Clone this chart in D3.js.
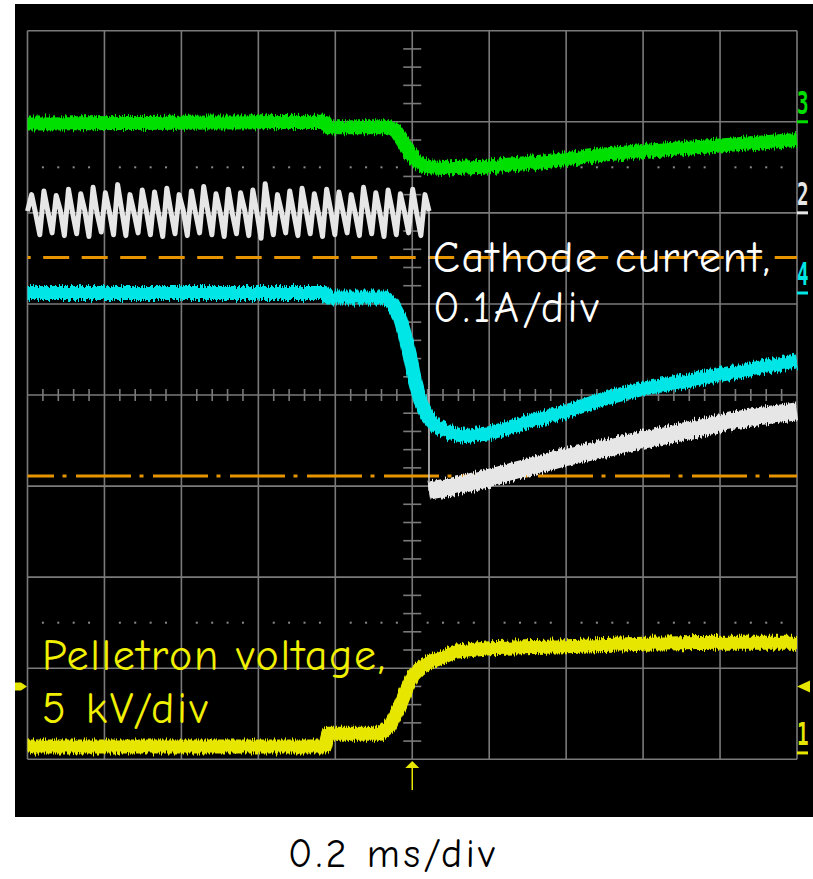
<!DOCTYPE html>
<html>
<head>
<meta charset="utf-8">
<title>Pelletron voltage and cathode current</title>
<style>
  html, body { margin: 0; padding: 0; background: #fff; }
  svg { display: block; }
  .lbl { font-family: "Comic Sans MS", "Comic Neue", Lato, sans-serif; }
  .mark { font-family: "DejaVu Sans Mono", monospace; font-weight: bold; }
</style>
</head>
<body>
<svg></svg>
<script src="https://d3js.org/d3.v7.min.js"></script>
<script>
  // time in ms (0.2 ms/div, trigger at 0), amplitude in divisions from screen centre
  const timeTicks = [-1, -0.8, -0.6, -0.4, -0.2, 0, 0.2, 0.4, 0.6, 0.8, 1];
  const divTicks = [-4, -3, -2, -1, 0, 1, 2, 3, 4];

  // ch3, green
  const ch3 = [
    [-1.0, 2.98], [-0.604, 2.99], [-0.227, 3.0], [-0.219, 2.94], [-0.058, 2.94],
    [-0.042, 2.9], [-0.027, 2.8], [-0.011, 2.69], [0.005, 2.6], [0.02, 2.54],
    [0.046, 2.5], [0.098, 2.49], [0.2, 2.51], [0.306, 2.55], [0.4, 2.59],
    [0.5, 2.64], [0.6, 2.68], [0.8, 2.74], [1.0, 2.8]
  ];

  // ch4, cyan
  const ch4 = [
    [-1.0, 1.12], [-0.227, 1.12], [-0.219, 1.07], [-0.071, 1.07], [-0.053, 1.01],
    [-0.032, 0.85], [-0.019, 0.66], [-0.006, 0.43], [0.007, 0.16], [0.02, -0.05],
    [0.038, -0.22], [0.059, -0.33], [0.098, -0.42], [0.137, -0.45], [0.2, -0.42],
    [0.306, -0.29], [0.4, -0.18], [0.5, -0.04], [0.6, 0.07], [0.696, 0.14],
    [0.8, 0.22], [0.904, 0.3], [1.0, 0.37]
  ];

  // ch2, white: ripple before the jump (sampled at a fixed step), then the ramp
  const ch2RippleStart = -1.0;
  const ch2RippleStep = 0.01065;
  const ch2Ripple = [
    2.02, 2.2, 1.99, 1.76, 2.24, 2.01, 1.78, 2.19, 2.03, 1.75, 2.26, 2.0,
    1.77, 2.21, 2.02, 1.74, 2.28, 1.99, 1.79, 2.22, 2.01, 1.76, 2.31, 2.03,
    1.75, 2.2, 2.0, 1.78, 2.25, 2.02, 1.76, 2.23, 1.99, 1.74, 2.27, 2.01,
    1.77, 2.2, 2.03, 1.75, 2.24, 2.0, 1.78, 2.29, 2.02, 1.76, 2.21, 2.01,
    1.74, 2.26, 1.99, 1.77, 2.22, 2.03, 1.75, 2.25, 2.0, 1.72, 2.32, 2.02,
    1.76, 2.2, 2.01, 1.78, 2.24, 1.99, 1.75, 2.27, 2.02, 1.77, 2.21, 2.0,
    1.74, 2.26, 2.03, 1.76, 2.23, 2.01, 1.78, 2.2, 1.99, 1.75, 2.28, 2.02,
    1.77, 2.22, 2.0, 1.74, 2.25, 2.03, 1.76, 2.21, 2.01, 1.78, 2.26, 1.99,
    1.75, 2.2, 2.02
  ];
  const ch2Ramp = [
    [0.0435, -1.05], [0.098, -1.01], [0.2, -0.91], [0.306, -0.79], [0.4, -0.68],
    [0.5, -0.59], [0.6, -0.49], [0.696, -0.41], [0.8, -0.31], [0.904, -0.23], [1.0, -0.18]
  ];

  // ch1, yellow
  const ch1 = [
    [-1.0, -3.86], [-0.227, -3.86], [-0.219, -3.72], [-0.083, -3.72], [-0.058, -3.63],
    [-0.032, -3.41], [-0.014, -3.22], [0.002, -3.08], [0.02, -3.0], [0.046, -2.93],
    [0.072, -2.89], [0.111, -2.82], [0.2, -2.78], [0.4, -2.76], [0.6, -2.73],
    [0.8, -2.72], [1.0, -2.72]
  ];

  // cursor levels (divisions)
  const dashLevel = 1.51;
  const dashDotLevel = -0.89;

  // channel offset markers on the right edge
  const markers = [
    { label: "3", level: 3, color: "#00e000" },
    { label: "2", level: 2, color: "#e6e6e6" },
    { label: "4", level: 1.12, color: "#00e5e5" },
    { label: "1", level: -3.93, color: "#e6e600" }
  ];
  const ch1Offset = -3.2;

  const width = 813, height = 879;
  const svg = d3.select("svg").attr("width", width).attr("height", height);

  const x = d3.scaleLinear().domain([-1, 1]).range([27.5, 797]);
  const y = d3.scaleLinear().domain([-4, 4]).range([759.3, 30.7]);

  // fuzz on the traces: vertical-only jitter like scope noise
  const defs = svg.append("defs");
  const fz = defs.append("filter").attr("id", "fuzz")
    .attr("x", "-2%").attr("y", "-30%").attr("width", "104%").attr("height", "160%");
  fz.append("feTurbulence").attr("type", "fractalNoise")
    .attr("baseFrequency", "0.9 0.015").attr("numOctaves", 1).attr("seed", 3)
    .attr("result", "n");
  fz.append("feColorMatrix").attr("in", "n").attr("type", "matrix")
    .attr("values", "0 0 0 0 0.5  0 1 0 0 0  0 0 1 0 0  0 0 0 0 1")
    .attr("result", "m");
  fz.append("feDisplacementMap").attr("in", "SourceGraphic").attr("in2", "m")
    .attr("scale", 10).attr("xChannelSelector", "R").attr("yChannelSelector", "G");

  svg.append("rect")
    .attr("x", 15).attr("y", 4)
    .attr("width", 798).attr("height", 813)
    .attr("fill", "#000");

  const grid = svg.append("g").attr("stroke", "#7a7a7a").attr("stroke-width", 1.6);

  grid.selectAll(".vl").data(timeTicks).enter().append("line")
    .attr("x1", d => x(d)).attr("x2", d => x(d))
    .attr("y1", y(4)).attr("y2", y(-4));

  grid.selectAll(".hl").data(divTicks).enter().append("line")
    .attr("y1", d => y(d)).attr("y2", d => y(d))
    .attr("x1", x(-1)).attr("x2", x(1));

  // minor ticks along centre axes
  const minorT = d3.range(-1, 1.0001, 0.04).filter(t => Math.abs(Math.round(t * 5) - t * 5) > 0.01);
  const minorV = d3.range(-4, 4.0001, 0.2).filter(v => Math.abs(Math.round(v) - v) > 0.01);

  grid.selectAll(".mt").data(minorT).enter().append("line")
    .attr("x1", d => x(d)).attr("x2", d => x(d))
    .attr("y1", y(0) - 6).attr("y2", y(0) + 6);

  grid.selectAll(".mv").data(minorV).enter().append("line")
    .attr("y1", d => y(d)).attr("y2", d => y(d))
    .attr("x1", x(0) - 9).attr("x2", x(0) + 9);

  // dotted rows at +/-2.5 div
  [2.5, -2.5].forEach(lv => {
    svg.append("g").selectAll("rect").data(minorT).enter().append("rect")
      .attr("x", d => x(d) - 1).attr("y", y(lv) - 1)
      .attr("width", 2).attr("height", 2)
      .attr("fill", "#8a8a8a");
  });

  // cursor lines
  svg.append("line")
    .attr("x1", x(-1)).attr("x2", x(1))
    .attr("y1", y(dashLevel)).attr("y2", y(dashLevel))
    .attr("stroke", "#e69500").attr("stroke-width", 3)
    .attr("stroke-dasharray", "26 12.5").attr("stroke-dashoffset", 22.8);

  svg.append("line")
    .attr("x1", x(-1)).attr("x2", x(1))
    .attr("y1", y(dashDotLevel)).attr("y2", y(dashDotLevel))
    .attr("stroke", "#e69500").attr("stroke-width", 3)
    .attr("stroke-dasharray", "55 8.5 4 9.5").attr("stroke-dashoffset", 28.5);

  const line = d3.line().x(d => x(d[0])).y(d => y(d[1]));

  function trace(data, color, w, fuzzy) {
    svg.append("path")
      .datum(data)
      .attr("d", line)
      .attr("fill", "none")
      .attr("stroke", color)
      .attr("stroke-width", w)
      .attr("stroke-linejoin", "round")
      .attr("filter", fuzzy ? "url(#fuzz)" : null);
  }

  trace(ch3, "#00e000", 14, true);

  const ripple = ch2Ripple.map((v, i) => [ch2RippleStart + i * ch2RippleStep, v]);
  trace(ripple, "#e6e6e6", 5, false);
  const lastR = ripple[ripple.length - 1];
  trace([[ch2Ramp[0][0], lastR[1]], [ch2Ramp[0][0], ch2Ramp[0][1]]], "#d0d0d0", 1.5, false);
  trace(ch2Ramp, "#e6e6e6", 18, true);

  trace(ch4, "#00e5e5", 14, true);
  trace(ch1, "#e6e600", 14, true);

  // right-hand channel markers
  const mk = svg.append("g");
  markers.forEach(m => {
    mk.append("rect")
      .attr("x", 797).attr("y", y(m.level) - 1.5)
      .attr("width", 11).attr("height", 3)
      .attr("fill", m.color);
    mk.append("text")
      .attr("class", "mark")
      .attr("transform", `translate(797,${y(m.level) - 8}) scale(0.6,1)`)
      .attr("font-size", 32)
      .attr("fill", m.color)
      .text(m.label);
  });

  // ch1 level arrows on both sides
  const yo = y(ch1Offset);
  svg.append("path")
    .attr("d", `M15,${yo - 4}H21L27,${yo}L21,${yo + 4}H15Z`)
    .attr("fill", "#e6e600");
  svg.append("path")
    .attr("d", `M810,${yo - 6}V${yo + 6}L797,${yo}Z`)
    .attr("fill", "#e6e600");

  // trigger position arrow
  svg.append("line")
    .attr("x1", x(0)).attr("x2", x(0))
    .attr("y1", 763).attr("y2", 790)
    .attr("stroke", "#e6e600").attr("stroke-width", 1.5);
  svg.append("path")
    .attr("d", `M${x(0) - 7},768 L${x(0)},761 L${x(0) + 7},768 Z`)
    .attr("fill", "#e6e600");

  // annotations
  const ann = svg.append("g").attr("class", "lbl");
  ann.append("text").attr("x", 433).attr("y", 272).attr("font-size", 44)
    .attr("fill", "#fff").attr("textLength", 337).text("Cathode current,");
  ann.append("text").attr("x", 433).attr("y", 322).attr("font-size", 44)
    .attr("fill", "#fff").attr("textLength", 166).text("0.1A/div");
  ann.append("text").attr("x", 42).attr("y", 670).attr("font-size", 44)
    .attr("fill", "#f0f000").attr("textLength", 343).text("Pelletron voltage,");
  ann.append("text").attr("x", 42).attr("y", 723).attr("font-size", 44)
    .attr("fill", "#f0f000").attr("textLength", 166).text("5 kV/div");
  ann.append("text").attr("x", 288).attr("y", 867).attr("font-size", 40)
    .attr("fill", "#000").attr("textLength", 207).text("0.2 ms/div");
</script>
</body>
</html>
